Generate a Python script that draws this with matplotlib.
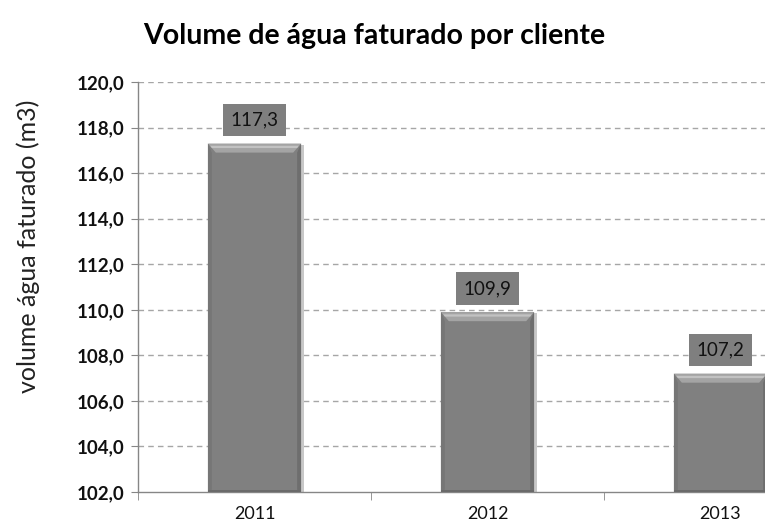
import matplotlib
matplotlib.use("Agg")
import matplotlib.pyplot as plt
from matplotlib.patches import Polygon, Rectangle
from matplotlib.ticker import FuncFormatter, FixedLocator

years = ["2011", "2012", "2013"]
volumes = [117.3, 109.9, 107.2]
value_labels = ["117,3", "109,9", "107,2"]
y_ticks = [102, 104, 106, 108, 110, 112, 114, 116, 118, 120]

plt.rcParams["font.family"] = ["Lato", "DejaVu Sans"]

fig = plt.figure(figsize=(7.65, 5.26), dpi=100)
W, H = 765, 526
left, right, bottom, top = 138, 837, 492, 82
ax = fig.add_axes([left / W, 1 - bottom / H, (right - left) / W, (bottom - top) / H])

x = list(range(len(years)))
bar_w = 0.40
bars = ax.bar(x, [v - 102 for v in volumes], bottom=102, width=bar_w,
              color="#808080", edgecolor="none", zorder=3)

# bevel-style shading on each bar
for b in bars:
    x0, y0 = b.get_x(), b.get_y()
    w, h = b.get_width(), b.get_height()
    x1, y1 = x0 + w, y0 + h
    dx = w * 0.085
    dy = 0.40
    # drop shadow
    ax.add_patch(Rectangle((x0 + 0.012, y0), w, h - 0.06, facecolor="#c8c8c8",
                           edgecolor="none", zorder=2))
    # top bevel (light)
    ax.add_patch(Polygon([(x0, y1), (x1, y1), (x1 - dx, y1 - dy), (x0 + dx, y1 - dy)],
                         closed=True, facecolor="#a4a4a4", edgecolor="none", zorder=4))
    ax.add_patch(Polygon([(x0 + dx * 0.3, y1 - 0.1), (x1 - dx * 0.3, y1 - 0.1),
                          (x1 - dx * 0.5, y1 - 0.2), (x0 + dx * 0.5, y1 - 0.2)],
                         closed=True, facecolor="#c2c2c2", edgecolor="none", zorder=4))
    # side bevels (darker)
    ax.add_patch(Polygon([(x0, y1), (x0 + dx * 0.5, y1 - dy), (x0 + dx * 0.5, y0 + 0.1), (x0, y0)],
                         closed=True, facecolor="#767676", edgecolor="none", zorder=4))
    ax.add_patch(Polygon([(x1, y1), (x1 - dx * 0.5, y1 - dy), (x1 - dx * 0.5, y0 + 0.1), (x1, y0)],
                         closed=True, facecolor="#6e6e6e", edgecolor="none", zorder=4))
    ax.add_patch(Rectangle((x0, y0), w, 0.1, facecolor="#6a6a6a", edgecolor="none", zorder=4))

# value labels in grey boxes
for xi, v, txt in zip(x, volumes, value_labels):
    ax.text(xi, v + 1.03, txt, ha="center", va="center", fontsize=13.5, color="#111111",
            zorder=6,
            bbox=dict(boxstyle="square,pad=0.42", facecolor="#7f7f7f", edgecolor="none"))

ax.set_xlim(-0.5, 2.5)
ax.set_ylim(102, 120)

ax.yaxis.set_major_locator(FixedLocator(y_ticks))
ax.yaxis.set_major_formatter(FuncFormatter(lambda v, p: f"{v:.1f}".replace(".", ",")))
ax.set_xticks(x)
ax.set_xticklabels(years)
ax.set_xticks([-0.5, 0.5, 1.5, 2.5], minor=True)

for t in y_ticks[1:]:
    ax.axhline(t, color="#a6a6a6", linestyle=(0, (4, 3)), linewidth=1.0, zorder=1)

for side in ("top", "right"):
    ax.spines[side].set_visible(False)
for side in ("left", "bottom"):
    ax.spines[side].set_color("#868686")
    ax.spines[side].set_linewidth(1.0)

ax.tick_params(axis="y", which="major", length=5, color="#868686", labelsize=13.5,
               labelcolor="#111111", pad=5)
ax.tick_params(axis="x", which="major", length=0, labelsize=13, labelcolor="#111111", pad=10)
ax.tick_params(axis="x", which="minor", length=6, color="#868686")
for lab in ax.get_yticklabels():
    lab.set_fontweight("bold")

ax.set_ylabel("volume água faturado (m3)", fontsize=18, color="#222222")
ax.yaxis.set_label_coords(-0.14, 0.6)

fig.text(374 / W, 1 - 36 / H, "Volume de água faturado por cliente", ha="center", va="center",
         fontsize=20.5, fontweight="bold", color="#000000")

fig.savefig("out.png", dpi=100)
